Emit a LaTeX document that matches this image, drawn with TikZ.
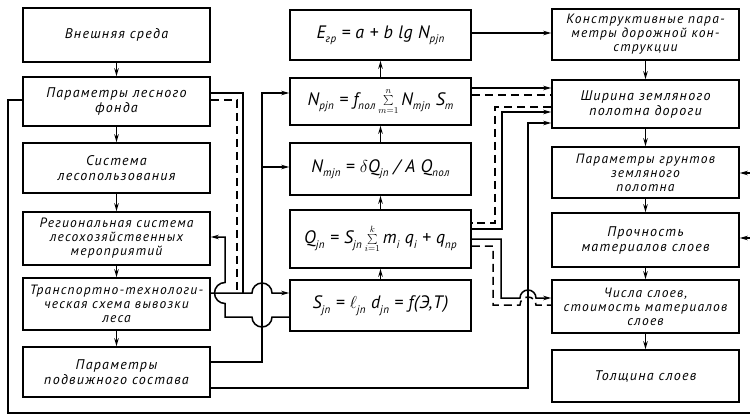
\documentclass[tikz,border=0pt]{standalone}
\usepackage{fontspec}
\setmainfont{PT Sans}
\newfontfamily\lab{PT Sans}[LetterSpace=9]
\newfontfamily\frm{PT Sans}[LetterSpace=3]
\usetikzlibrary{arrows.meta,calc}
\newcommand{\lo}[1]{\raisebox{-0.5ex}{\fontsize{11}{11}\selectfont #1}}
\newcommand{\sm}[2]{\hspace{3pt}$\sum\limits_{\scriptscriptstyle #1}^{\scriptscriptstyle #2}$\hspace{3pt}}
\begin{document}
\begin{tikzpicture}[x=1pt,y=-1pt,line width=1.5pt,
  box/.style={draw,line width=1.6pt,align=center,inner sep=2pt,
    font=\lab\itshape\fontsize{14}{15}\selectfont},
  sbox/.style={box,font=\lab\itshape\fontsize{13.5}{14}\selectfont},
  fbox/.style={draw,line width=1.6pt,align=center,inner sep=2pt,
    font=\frm\itshape\fontsize{18}{20}\selectfont},
  arr/.style={-{Stealth[length=8pt,width=4.5pt]}},
  dsh/.style={dash pattern=on 8pt off 5pt}]
\useasboundingbox[fill=white] (0,0) rectangle (750,415);
% left column
\node[box,minimum width=187pt,minimum height=54pt] (L1) at (116.5,35) {Внешняя среда};
\node[box,minimum width=187pt,minimum height=49pt] (L2) at (116.5,101.5) {Параметры лесного\\фонда};
\node[box,minimum width=187pt,minimum height=50pt] (L3) at (116.5,168) {Система\\лесопользования};
\node[sbox,minimum width=187pt,minimum height=53pt] (L4) at (116.5,238.5) {Региональная система\\лесохозяйственных\\мероприятий};
\node[sbox,minimum width=187pt,minimum height=52pt] (L5) at (116.5,304) {Транспортно-технологи-\\ческая схема вывозки\\леса};
\node[box,minimum width=187pt,minimum height=50pt] (L6) at (116.5,372) {Параметры\\подвижного состава};
% middle column
\node[fbox,minimum width=181pt,minimum height=50pt] (M1) at (380.5,35) {E\lo{гр} = a + b lg N\lo{pjn}};
\node[fbox,minimum width=181pt,minimum height=47pt] (M2) at (380.5,101.5) {N\lo{pjn} = f\lo{пол}\sm{m=1}{n}N\lo{тjn} S\lo{m}};
\node[fbox,minimum width=181pt,minimum height=52pt] (M3) at (380.5,169) {N\lo{тjn} = $\delta$Q\lo{jn} / A Q\lo{пол}};
\node[fbox,minimum width=181pt,minimum height=58pt] (M4) at (380.5,239) {Q\lo{jn} = S\lo{jn}\sm{i=1}{k}m\lo{i} q\lo{i} + q\lo{пр}};
\node[fbox,minimum width=181pt,minimum height=51pt] (M5) at (380.5,305.5) {S\lo{jn} = $\ell$\lo{jn} d\lo{jn} = f(Э,T)};
% right column
\node[sbox,minimum width=187pt,minimum height=51pt] (R1) at (645.5,34.5) {Конструктивные пара-\\метры дорожной кон-\\струкции};
\node[box,minimum width=187pt,minimum height=48pt] (R2) at (645.5,104) {Ширина земляного\\полотна дороги};
\node[sbox,minimum width=187pt,minimum height=51pt] (R3) at (645.5,172.5) {Параметры грунтов\\земляного\\полотна};
\node[box,minimum width=187pt,minimum height=54pt] (R4) at (645.5,240) {Прочность\\материалов слоев};
\node[sbox,minimum width=187pt,minimum height=53pt] (R5) at (645.5,306.5) {Числа слоев,\\стоимость материалов\\слоев};
\node[box,minimum width=187pt,minimum height=52pt] (R6) at (645.5,376) {Толщина слоев};
% vertical chains
\draw[arr] (L1.south) -- (L2.north);
\draw[arr] (L2.south) -- (L3.north);
\draw[arr] (L3.south) -- (L4.north);
\draw[arr] (L4.south) -- (L5.north);
\draw[arr] (L5.south) -- (L6.north);
\draw[arr] (M2.north) -- (M1.south);
\draw[arr] (M3.north) -- (M2.south);
\draw[arr] (M4.north) -- (M3.south);
\draw[arr] (M5.north) -- (M4.south);
\draw[arr] (R1.south) -- (R2.north);
\draw[arr] (R2.south) -- (R3.north);
\draw[arr] (R3.south) -- (R4.north);
\draw[arr] (R4.south) -- (R5.north);
\draw[arr] (R5.south) -- (R6.north);
% left-middle connectors
\draw[arr] ($(L6.east)+(0,-10)$) -- (262,362) -- (262,93) -- ($(M2.west)+(0,-8.5)$);
\draw[arr] (262,167) -- ($(M3.west)+(0,-2)$);
\draw[arr] ($(L5.east)+(0,-11)$) -- (252,293) arc[start angle=180,end angle=0,radius=10pt] -- ($(M5.west)+(0,-12.5)$);
\draw ($(L2.east)+(0,-8.5)$) -- (243,93) -- (243,293);
\draw[dsh] ($(L2.east)+(0,-1.5)$) -- (237,100) -- (237,293);
\draw[arr] ($(M5.west)+(0,11.5)$) -- (272,317) arc[start angle=0,end angle=-180,radius=10pt] -- (225,317) -- (225,303.5) arc[start angle=-90,end angle=-270,radius=10.5pt] -- (225,237) -- ($(L4.east)+(0,-1.5)$);
% middle-right connectors
\draw[arr] ($(M1.east)+(0,-2)$) -- ($(R1.west)+(0,-1.5)$);
\draw[arr] ($(M2.east)+(0,-13.5)$) -- ($(R2.west)+(0,-16)$);
\draw[dsh] ($(M2.east)+(0,-6.5)$) -- ($(R2.west)+(0,-9)$);
\draw[dsh] ($(R2.west)+(0,3)$) -- (495,107) -- (495,223) -- ($(M4.east)+(0,-16)$);
\draw[arr] ($(M4.east)+(0,-10)$) -- (502,229) -- (502,112) -- ($(R2.west)+(0,8)$);
\draw[arr] (M4.east) -- (501,239) -- (501,298) -- (520,298) arc[start angle=180,end angle=0,radius=8pt] -- ($(R5.west)+(0,-8.5)$);
\draw[dsh] ($(M4.east)+(0,7)$) -- (493,246) -- (493,305) -- (520,305) arc[start angle=180,end angle=0,radius=8pt] -- ($(R5.west)+(0,-1.5)$);
\draw[arr] ($(L6.east)+(0,16)$) -- (528,388) -- (528,123) -- ($(R2.west)+(0,19)$);
% outer loop
\draw ($(L2.west)+(0,-1.5)$) -- (8,100) -- (8,413) -- (753,413) -- (753,173);
\draw[arr] (753,173) -- ($(R3.east)+(0,0.5)$);
\draw[arr] (753,238) -- ($(R4.east)+(0,-2)$);
\end{tikzpicture}
\end{document}
